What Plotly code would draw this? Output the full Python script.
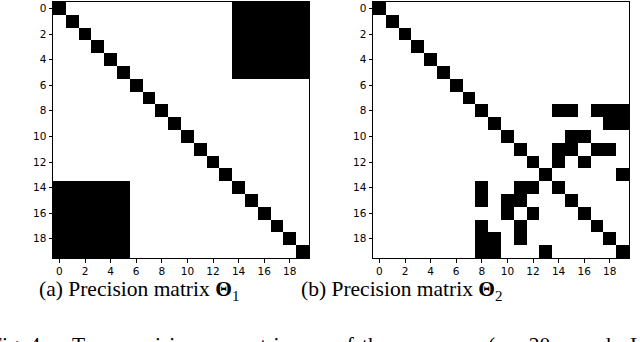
import numpy as np
import plotly.graph_objects as go

p = 20
tick_vals = list(range(0, 20, 2))

# theta 1: identity + two off-diagonal blocks (rows 0-5 x cols 14-19, mirrored)
block_rows = [0, 1, 2, 3, 4, 5]
block_cols = [14, 15, 16, 17, 18, 19]

# theta 2: identity + these nonzero off-diagonal entries (upper triangle, mirrored)
edges_i = [8, 8, 8, 8, 8, 9, 9, 10, 10, 11, 11, 11, 11, 12, 12, 13]
edges_j = [14, 15, 17, 18, 19, 18, 19, 15, 16, 14, 15, 17, 18, 14, 16, 19]

captions = ["(a) Precision matrix <b>Θ</b><sub>1</sub>",
            "(b) Precision matrix <b>Θ</b><sub>2</sub>"]
fig_caption = ["Fig. 4:", "Two", "precision", "matrices", "of", "the", "cases",
               "(<i>p</i> = 20", "and", "L"]

theta1 = np.eye(p)
for i in block_rows:
    for j in block_cols:
        theta1[i, j] = 1
        theta1[j, i] = 1

theta2 = np.eye(p)
for i, j in zip(edges_i, edges_j):
    theta2[i, j] = 1
    theta2[j, i] = 1

W, H = 640, 342
def px(x):
    return x / W
def py(y):
    return 1 - y / H

fig = go.Figure()
bw = [[0, "white"], [1, "black"]]
fig.add_trace(go.Heatmap(z=theta1, colorscale=bw, zmin=0, zmax=1, showscale=False,
                         xaxis="x", yaxis="y", hoverinfo="skip"))
fig.add_trace(go.Heatmap(z=theta2, colorscale=bw, zmin=0, zmax=1, showscale=False,
                         xaxis="x2", yaxis="y2", hoverinfo="skip"))

ax = dict(range=[-0.5, 19.5], tickvals=tick_vals, ticks="outside", ticklen=3.5,
          tickcolor="black", showline=True, linecolor="black", linewidth=1, mirror=True,
          showgrid=False, zeroline=False,
          tickfont=dict(family="DejaVu Sans", size=10.5, color="black"))
ay = dict(ax, range=[19.5, -0.5])

fig.update_layout(
    width=W, height=H,
    margin=dict(l=0, r=0, t=0, b=0),
    paper_bgcolor="white", plot_bgcolor="white",
    xaxis=dict(ax, domain=[px(53), px(309)], anchor="y"),
    yaxis=dict(ay, domain=[py(258), py(2)], anchor="x"),
    xaxis2=dict(ax, domain=[px(373), px(629)], anchor="y2"),
    yaxis2=dict(ay, domain=[py(258), py(2)], anchor="x2"),
)

for cx, txt in zip([139, 402], captions):
    fig.add_annotation(x=px(cx), y=py(290), xref="paper", yref="paper",
                       xanchor="center", yanchor="middle",
                       text=txt, showarrow=False,
                       font=dict(family="Liberation Serif", size=21.5, color="black"))

# figure caption below, cut off by the bottom edge (justified, so words placed one by one)
word_x = [-12, 70, 116, 232, 334, 360, 404, 486, 578, 628]
for wx, word in zip(word_x, fig_caption):
    fig.add_annotation(x=px(wx), y=py(345), xref="paper", yref="paper",
                       xanchor="left", yanchor="middle", showarrow=False,
                       text=word,
                       font=dict(family="Liberation Serif", size=21.5, color="black"))

# drop the browser's default 8px body margin so the figure fills the window
fig.write_html("out.html", config={"displayModeBar": False},
               post_script="document.body.style.margin='0px';")
